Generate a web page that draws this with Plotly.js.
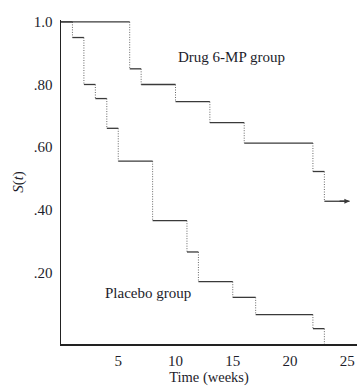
<!DOCTYPE html>
<html>
<head>
<meta charset="utf-8">
<script src="https://cdn.plot.ly/plotly-3.0.1.min.js"></script>
<style>html,body{margin:0;padding:0;background:#fff;}#chart{width:358px;height:387px;}</style>
</head>
<body>
<div id="chart"></div>
<script>
// Kaplan-Meier step data
var placeboTimes = [0, 1, 2, 3, 4, 5, 8, 11, 12, 15, 17, 22, 23];
var placeboSurv  = [1, 0.95, 0.80, 0.755, 0.66, 0.555, 0.365, 0.265, 0.17, 0.12, 0.065, 0.02, 0];
var drugTimes = [0, 6, 7, 10, 13, 16, 22, 23];
var drugSurv  = [1, 0.85, 0.80, 0.745, 0.678, 0.613, 0.522, 0.427];
var drugLastFollowUp = 25.2;

var xTickVals = [5, 10, 15, 20, 25];
var xTickText = ['5', '10', '15', '20', '25'];
var yTickVals = [0.2, 0.4, 0.6, 0.8, 1.0];
var yTickText = ['.20', '.40', '.60', '.80', '1.0'];

var yMin = -0.029, yMax = 1.006;

function stepSegments(t, s, endT, floor) {
  var hx = [], hy = [], vx = [], vy = [];
  for (var i = 0; i < t.length; i++) {
    var tNext = (i + 1 < t.length) ? t[i + 1] : endT;
    if (tNext !== undefined && tNext > t[i] && s[i] > 0) {
      hx.push(t[i], tNext, null); hy.push(s[i], s[i], null);
    }
    if (i + 1 < t.length) {
      var lo = s[i + 1] === 0 ? floor : s[i + 1];
      vx.push(t[i + 1], t[i + 1], null); vy.push(s[i], lo, null);
    }
  }
  return {hx: hx, hy: hy, vx: vx, vy: vy};
}

var p = stepSegments(placeboTimes, placeboSurv, undefined, yMin);
var d = stepSegments(drugTimes, drugSurv, drugLastFollowUp, yMin);

var solid = {color: '#3a3a3a', width: 1.3};
var dotted = {color: '#666', width: 1, dash: '1px,1.5px'};

var traces = [
  {x: p.vx, y: p.vy, mode: 'lines', line: dotted, hoverinfo: 'skip'},
  {x: d.vx, y: d.vy, mode: 'lines', line: dotted, hoverinfo: 'skip'},
  {x: p.hx, y: p.hy, mode: 'lines', line: solid, hoverinfo: 'skip'},
  {x: d.hx, y: d.hy, mode: 'lines', line: solid, hoverinfo: 'skip'}
];

var font = {family: '"Liberation Serif", "Times New Roman", serif', size: 15, color: '#1d1d2b'};

var layout = {
  width: 358, height: 387,
  margin: {l: 61, r: 1, t: 20, b: 43},
  paper_bgcolor: '#fff', plot_bgcolor: '#fff',
  showlegend: false,
  font: font,
  xaxis: {
    range: [0, 25.85], showgrid: false, zeroline: false,
    showline: true, linecolor: '#222', linewidth: 1.5,
    ticks: '', tickvals: xTickVals, ticktext: xTickText,
    tickfont: font, ticklabelstandoff: 2,
    title: {text: 'Time (weeks)', font: {family: font.family, size: 14.5, color: font.color}, standoff: 4}
  },
  yaxis: {
    range: [yMin, yMax], showgrid: false, zeroline: false,
    showline: true, linecolor: '#222', linewidth: 1.5,
    ticks: '', tickvals: yTickVals, ticktext: yTickText,
    tickfont: font, ticklabelstandoff: 4,
    title: {text: '<i>S</i>(<i>t</i>)', font: {family: font.family, size: 15, color: font.color}, standoff: 6}
  },
  annotations: [
    {x: drugLastFollowUp, y: drugSurv[drugSurv.length - 1], ax: drugTimes[drugTimes.length - 1] + 1.2,
     ay: drugSurv[drugSurv.length - 1], axref: 'x', ayref: 'y', xref: 'x', yref: 'y',
     showarrow: true, arrowhead: 2, arrowsize: 0.8, arrowwidth: 1.3, arrowcolor: '#3a3a3a', text: ''},
    {x: 10.04, y: 0.888, xref: 'x', yref: 'y', xanchor: 'left', yanchor: 'middle',
     text: 'Drug 6-MP group', showarrow: false, font: font},
    {x: 3.67, y: 0.134, xref: 'x', yref: 'y', xanchor: 'left', yanchor: 'middle',
     text: 'Placebo group', showarrow: false, font: font}
  ]
};

Plotly.newPlot('chart', traces, layout, {displayModeBar: false, staticPlot: true});
</script>
</body>
</html>
